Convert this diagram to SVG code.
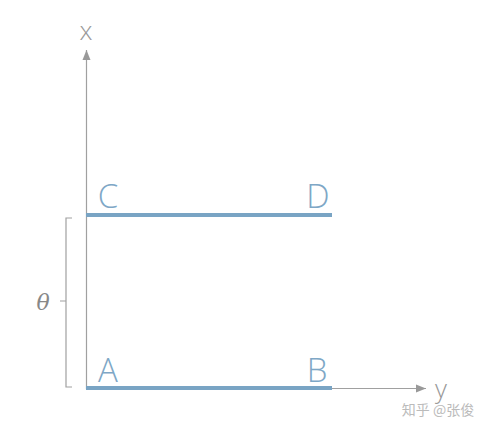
<svg xmlns="http://www.w3.org/2000/svg" width="488" height="430" viewBox="0 0 488 430">
<style>
.lbl{font-family:"Open Sans","Liberation Sans",sans-serif;font-weight:300;font-size:33px;fill:#7ea7c6}
.ax{stroke:#a0a0a0;stroke-width:1.2;fill:none}
.seg{stroke:#79a4c4;stroke-width:4;fill:none}
.axl{font-family:"Open Sans","Liberation Sans",sans-serif;font-weight:300;font-size:26px;fill:#999}
</style>
<defs>
<marker id="arr" viewBox="0 0 10 10" refX="10" refY="5" markerWidth="10" markerHeight="10" markerUnits="userSpaceOnUse" orient="auto">
<path d="M0,1 L10,5 L0,9 Z" fill="#999"/>
</marker>
</defs>
<rect width="488" height="430" fill="#fff"/>
<g id="connectors">
<line class="ax" x1="86.5" y1="389" x2="86.5" y2="50" marker-end="url(#arr)"/>
<line class="ax" x1="86" y1="388.5" x2="426" y2="388.5" marker-end="url(#arr)"/>
<path class="ax" d="M72,218 L66,218 L66,387 L72,387 M66,301 L60,301" stroke="#b0b0b0"/>
</g>
<g id="segCD"><line class="seg" x1="86" y1="215" x2="332" y2="215"/></g>
<g id="segAB"><line class="seg" x1="86" y1="388" x2="332" y2="388"/></g>
<g id="labels">
<text class="axl" x="86" y="40" text-anchor="middle">x</text>
<text class="axl" x="441" y="398" text-anchor="middle">y</text>
<text class="lbl" x="108" y="208" text-anchor="middle">C</text>
<text class="lbl" x="318" y="208" text-anchor="middle">D</text>
<text class="lbl" x="108" y="382" text-anchor="middle">A</text>
<text class="lbl" x="317" y="382" text-anchor="middle">B</text>
<text x="43" y="310" text-anchor="middle" font-family="'DejaVu Serif',serif" font-style="italic" font-size="22" fill="#888">θ</text>
<text x="438" y="415" text-anchor="middle" font-family="'Noto Sans CJK SC',sans-serif" font-size="14" fill="#bbb">知乎 @张俊</text>
</g>
</svg>
